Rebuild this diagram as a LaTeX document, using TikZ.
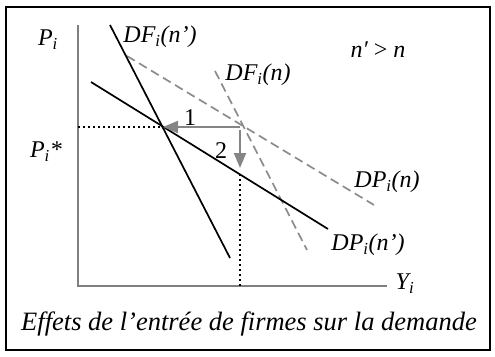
\documentclass[tikz,border=0pt]{standalone}
\usepackage{fontspec}
\setmainfont{Liberation Serif}
\usetikzlibrary{positioning,calc,arrows.meta}
\definecolor{ink}{HTML}{000000}
\definecolor{axisgray}{HTML}{7F7F7F}
\definecolor{dashgray}{HTML}{8C8C8C}
\definecolor{arrowgray}{HTML}{858585}
\newcommand{\lbl}{\fontsize{24}{28}\selectfont}
\newcommand{\legende}{\fontsize{26.5}{32}\selectfont}

\begin{document}
\begin{tikzpicture}[x=1pt,y=-1pt,
  courbe/.style={ink,line width=1.7pt},
  ancienne/.style={dashgray,line width=1.7pt,dash pattern=on 9pt off 5pt},
  repere/.style={ink,line width=1.6pt,dash pattern=on 2pt off 3pt},
  fleche/.style={arrowgray,line width=2pt,-{Triangle[length=15pt,width=12pt]}},
  etiquette/.style={font=\lbl,inner sep=0pt}]
  \useasboundingbox (0,0) rectangle (495,356);
  \draw[ink,line width=2.4pt] (6,7) rectangle (490,350);

  % --- Axes ---
  \coordinate (O) at (78,286);
  \coordinate (Ytop) at (78,25);
  \coordinate (Xend) at (387,286);
  \draw[axisgray,line width=1.3pt] (Ytop) -- (O) -- (Xend);

  % --- Courbes avant l'entrée (n) ---
  \coordinate (DFn1) at (215,71);
  \coordinate (DFn2) at (307,250);
  \coordinate (DPn1) at (127,56);
  \coordinate (DPn2) at (374,205);
  \draw[ancienne] (DFn1) -- (DFn2);
  \draw[ancienne] (DPn1) -- (DPn2);

  % --- Courbes après l'entrée (n') ---
  \coordinate (DFm1) at (110,25);
  \coordinate (DFm2) at (230,258);
  \coordinate (DPm1) at (91,82);
  \coordinate (DPm2) at (328,229);
  \draw[courbe] (DFm1) -- (DFm2);
  \draw[courbe] (DPm1) -- (DPm2);

  % --- Equilibres et flèches ---
  \coordinate (E) at (161,127);
  \coordinate (Q) at (240,127);
  \coordinate (Pstar) at (78,127);
  \coordinate (Qbas) at (240,174);
  \coordinate (Yq) at (240,286);
  \draw[repere] (Pstar) -- (E);
  \draw[repere] (Qbas) -- (Yq);
  \draw[fleche] (Q) -- ($(E)+(2,0)$);
  \draw[fleche] ($(Q)+(0,3)$) -- (240,168);

  % --- Etiquettes ---
  \node[etiquette] (pi) at (48,40) {\itshape P\textsubscript{i}};
  \node[etiquette] (pistar) at (46,152) {\itshape P\textsubscript{i}*};
  \node[etiquette] (yi) at (405,284) {\itshape Y\textsubscript{i}};
  \node[etiquette] (dfm) at (160,37) {\itshape DF\textsubscript{i}(n’)};
  \node[etiquette] (dfn) at (258,75) {\itshape DF\textsubscript{i}(n)};
  \node[etiquette] (cond) at (378,50) {\itshape n′ \upshape> \itshape n};
  \node[etiquette] (dpn) at (387,182) {\itshape DP\textsubscript{i}(n)};
  \node[etiquette] (dpm) at (368,245) {\itshape DP\textsubscript{i}(n’)};
  \node[etiquette] (un) at (190,118) {1};
  \node[etiquette] (deux) at (221,151) {2};
  \node[etiquette] (titre) at (249,324) {\legende\itshape Effets de l’entrée de firmes sur la demande};
\end{tikzpicture}
\end{document}
